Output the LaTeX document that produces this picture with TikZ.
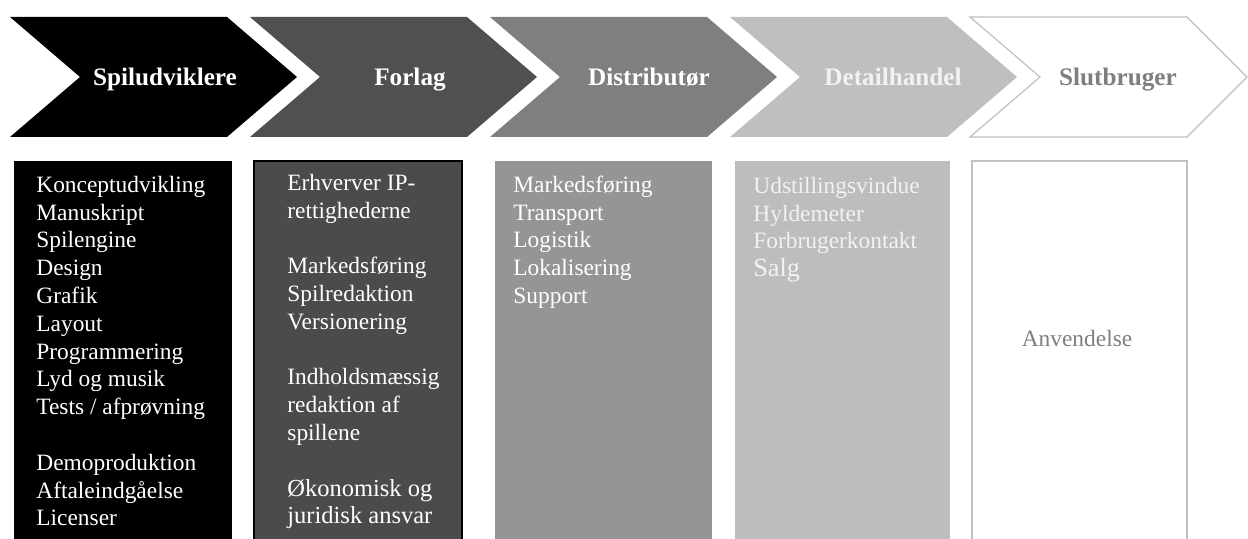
\documentclass[tikz,border=0pt]{standalone}
\usepackage{fontspec}
\setmainfont{Liberation Serif}

\definecolor{stageA}{HTML}{000000}
\definecolor{stageB}{HTML}{505050}
\definecolor{stageC}{HTML}{7F7F7F}
\definecolor{stageD}{HTML}{BFBFBF}
\definecolor{panelB}{HTML}{4B4B4B}
\definecolor{panelC}{HTML}{959595}
\definecolor{panelD}{HTML}{BDBDBD}
\definecolor{rim}{HTML}{C0C0C0}
\definecolor{paletext}{HTML}{F2F2F2}
\definecolor{greytext}{HTML}{7F7F7F}

\newcommand\largerline[1]{{\fontsize{12.25}{13.9}\selectfont #1}}
\newcommand\bigline[1]{{\fontsize{13.1}{13.9}\selectfont #1}}

\begin{document}
\begin{tikzpicture}[x=0.5pt,y=-0.5pt,
  stagehead/.style={font=\fontsize{12.6}{15}\selectfont\bfseries, inner sep=0pt, anchor=base},
  paneltext/.style={font=\fontsize{11.7}{13.9}\selectfont, align=left, anchor=north west, inner sep=0pt},
  outline/.style={draw=rim, line width=0.6pt, fill=white},
]
\useasboundingbox (0,0) rectangle (1248,539);
\clip (0,0) rectangle (1248,539);

% value-chain stages (chevrons)
\fill[stageA] (10,17) -- (227,17) -- (297,77) -- (227,137) -- (10,137) -- (80,77) -- cycle;
\fill[stageB] (250,17) -- (467,17) -- (537,77) -- (467,137) -- (250,137) -- (320,77) -- cycle;
\fill[stageC] (490,17) -- (707,17) -- (777,77) -- (707,137) -- (490,137) -- (560,77) -- cycle;
\fill[stageD] (730,17) -- (947,17) -- (1017,77) -- (947,137) -- (730,137) -- (800,77) -- cycle;
\path[outline] (970,17) -- (1187,17) -- (1247,77) -- (1187,137) -- (970,137) -- (1040,77) -- cycle;

\node[stagehead, text=white] (h1) at (165,86) {Spiludviklere};
\node[stagehead, text=white] (h2) at (410,86) {Forlag};
\node[stagehead, text=white] (h3) at (649,86) {Distributør};
\node[stagehead, text=paletext] (h4) at (893,86) {Detailhandel};
\node[stagehead, text=greytext] (h5) at (1118,86) {Slutbruger};

% task panels below each stage
\fill[stageA] (14,161) rectangle (232,560);
\path[fill=panelB, draw=black, line width=0.6pt] (254,161) rectangle (462,560);
\fill[panelC] (495,161) rectangle (712,560);
\fill[panelD] (735,161) rectangle (950,560);
\path[outline] (972,161) rectangle (1187,560);

\node[paneltext, text=white] (t1) at (36,172.5) {\strut Konceptudvikling\\
  Manuskript\\ Spilengine\\ Design\\ Grafik\\ Layout\\ Programmering\\
  Lyd og musik\\ Tests / afprøvning\\[13.9pt]
  Demoproduktion\\ Aftaleindgåelse\\ Licenser};

\node[paneltext, text=white] (t2) at (287,170.5) {\strut Erhverver IP-\\
  rettighederne\\[13.9pt]
  Markedsføring\\ Spilredaktion\\ Versionering\\[13.9pt]
  Indholdsmæssig\\ redaktion af\\ spillene\\[13.9pt]
  \largerline{Økonomisk og}\\ \largerline{juridisk ansvar}};

\node[paneltext, text=white] (t3) at (513,172.5) {\strut Markedsføring\\
  Transport\\ Logistik\\ Lokalisering\\ Support};

\node[paneltext, text=paletext] (t4) at (753,173.5) {\strut Udstillingsvindue\\
  Hyldemeter\\ Forbrugerkontakt\\ \bigline{Salg}};

\node[font=\fontsize{11.7}{13.9}\selectfont, text=greytext, inner sep=0pt, anchor=base] (t5) at (1077,347) {Anvendelse};
\end{tikzpicture}
\end{document}
